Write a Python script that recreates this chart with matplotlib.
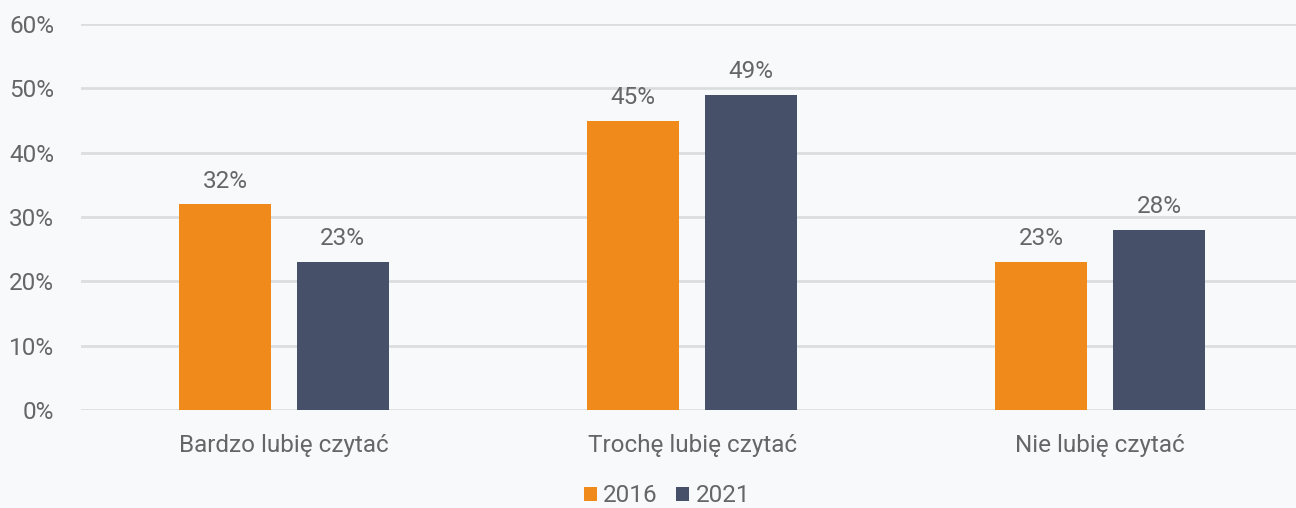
import matplotlib
matplotlib.use("Agg")
import matplotlib.pyplot as plt
import numpy as np

categories = ["Bardzo lubię czytać", "Trochę lubię czytać", "Nie lubię czytać"]
series_names = ["2016", "2021"]
values_2016 = [32, 45, 23]
values_2021 = [23, 49, 28]
yticks = [0, 10, 20, 30, 40, 50, 60]

plt.rcParams['font.family'] = ['Roboto', 'DejaVu Sans']
text_color = "#666666"
bg = "#F8F9FB"
colors = ["#EF8A1B", "#465068"]
fs = 17.5

fig = plt.figure(figsize=(12.96, 5.08), dpi=100, facecolor=bg)
ax = fig.add_axes([81/1296, (508-410)/508, 1 - 81/1296, (410-24)/508])
ax.set_facecolor(bg)

x = np.arange(len(categories))
w = 0.225
off = 0.144
for vals, name, c, d in [(values_2016, series_names[0], colors[0], -off),
                         (values_2021, series_names[1], colors[1], off)]:
    bars = ax.bar(x + d, vals, width=w, color=c, label=name, zorder=3)
    for b, v in zip(bars, vals):
        ax.text(b.get_x() + b.get_width()/2, v + 1.8, f"{v}%", ha="center", va="bottom",
                fontsize=fs, color=text_color)

ax.set_ylim(0, 60)
ax.set_xlim(-0.4975, 2.48)
ax.set_yticks(yticks)
ax.set_yticklabels([f"{t}%" for t in yticks])
ax.yaxis.grid(True, color="#dcdddf", linewidth=2, zorder=0)
ax.set_axisbelow(True)
for s in ax.spines.values():
    s.set_visible(False)
ax.tick_params(axis="both", length=0, labelsize=fs, colors=text_color)
ax.tick_params(axis="y", pad=19.5)
ax.tick_params(axis="x", pad=17)
ax.set_xticks(x)
ax.set_xticklabels(categories)

leg = fig.legend(loc="center", bbox_to_anchor=(667/1296, 1 - 496/508), ncol=2, frameon=False,
                 fontsize=fs, handlelength=0.55, handleheight=0.55, handletextpad=0.25,
                 columnspacing=0.75, labelcolor=text_color)

fig.savefig("out.png", dpi=100, facecolor=bg)
